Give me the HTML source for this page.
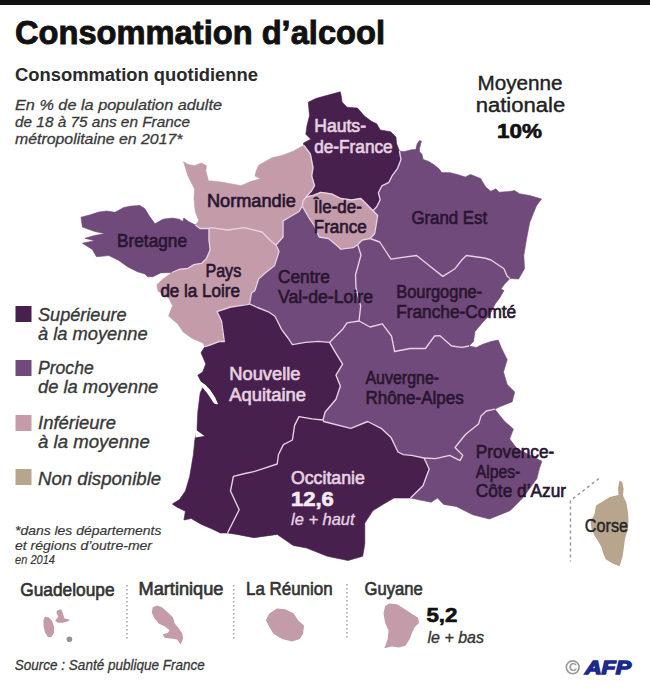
<!DOCTYPE html>
<html><head><meta charset="utf-8"><style>
html,body{margin:0;padding:0;background:#fff;}
svg{display:block;font-family:"Liberation Sans",sans-serif;}
</style></head><body>
<svg width="650" height="687" viewBox="0 0 650 687">
<rect x="0" y="0" width="650" height="687" fill="#fff"/>
<rect x="0" y="0" width="650" height="5" fill="#111"/>
<g stroke-linejoin="round">
<polygon fill="#48204d" stroke="#48204d" stroke-width="0.6" points="304,145.5 303.5,143 310.8,139.2 305.8,134.2 307,125.6 309.5,115.8 308.3,102.2 315.7,98.5 329.2,94.8 340.3,91.8 341.5,97.3 342,102 347,107.2 357.5,108.1 364.4,116 371.4,121.2 376.7,123.8 380.2,130 390.6,131.7 395.9,136.9 396.7,143.9 399.4,151 401,159.6 397.6,168.3 392.4,175.3 388.9,182.3 381.9,185.8 378.4,192.8 380.2,199.8 376.7,206.8 373,210.8 365.4,203 360.8,198.5 351.5,200 340.8,198.5 331.5,193.8 320.8,192.3 313,195.4 306,197 311.5,191 314.5,185.7 311.7,176 313,167.7 311.7,160.8 310.3,153.8 304,145.5"/>
<polygon fill="#c39ba9" stroke="#c39ba9" stroke-width="0.6" points="195.4,225 198.8,220.4 195.4,212.3 194.7,206.3 194,198.5 194.7,189.3 192,184 188.1,176.2 183.5,161.8 188.1,164.4 194.7,165.7 201.2,163.1 206.4,165.7 205.8,171 208.4,180.8 217,181.4 225.4,182.7 241,185.7 250.8,181.5 260.5,178.8 255,176 256.3,170.5 259,165 271.5,158 282.6,155.2 293.7,151 300.6,147 304,145.5 310.3,153.8 311.7,160.8 313,167.7 311.7,176 314.5,185.7 311.5,191 306,197 303,201 302.3,206.2 299,211.5 283,220.8 283,237 276,245 271.5,241.5 262,232 244,227.7 227.7,230 210.4,227.7 209,228.5 200,228.5 195.4,225"/>
<polygon fill="#c39ba9" stroke="#c39ba9" stroke-width="0.6" points="306,197 313,195.4 320.8,192.3 331.5,193.8 340.8,198.5 351.5,200 360.8,198.5 365.4,203 373,210.8 377.7,215.4 376.2,224.6 374.6,233.8 370,238.5 362.3,240 357.7,244.6 353,247.7 340.8,249.2 337.7,246.2 328.5,238.5 319.2,237 314.6,226.2 308.5,217 302.3,206.2 303,201 306,197"/>
<polygon fill="#704a7a" stroke="#704a7a" stroke-width="0.6" points="399.4,151 403.8,151.7 411.2,149.8 415.8,149.4 417.2,143.8 419.5,140.6 421.4,141 419.5,148.5 419.5,151.7 421.9,154 423.2,159.5 428.8,161.4 434.3,165 439,168.8 441.7,172.5 450.2,172.7 457,174.4 465.4,177 470.5,174.4 480.6,178.6 485.7,187 490.8,191.3 495.8,188.8 499.2,192.2 511,191.3 514.5,190.5 519.5,193.8 529.7,195.5 541.5,199 536.5,205.7 533,214.2 529.7,222.6 526.4,239.8 523.8,255.5 524.5,268.7 518.6,279 510,278.5 507,276 504,268.7 491,260 484.6,258 466.3,255.5 461.8,260 455,268.7 442.8,276.4 429.7,266 416.6,255.5 402.4,257.3 391,259.2 387.3,253.5 379.7,242 370,238.5 374.6,233.8 376.2,224.6 377.7,215.4 373,210.8 376.7,206.8 380.2,199.8 378.4,192.8 381.9,185.8 388.9,182.3 392.4,175.3 397.6,168.3 401,159.6 399.4,151"/>
<polygon fill="#704a7a" stroke="#704a7a" stroke-width="0.6" points="172,272.5 160.7,272.9 152.9,276.8 147.6,276.8 145,274 137.4,271.7 127.5,266.7 118.8,260.5 108.9,255.6 96.5,256.8 92.3,249.4 82.4,243.2 94.8,240.7 84.9,238.3 93.5,235.8 104.7,233.6 94.8,231.5 82.4,227.1 81,217.2 90.4,214.8 97.8,212.3 106.4,211 115.1,212.3 123.8,207.4 131.2,206.1 139.8,205.5 144.8,208.6 149.2,215.8 155,223.8 163,219.2 172.3,218 179.2,219.2 182.7,221.5 183.8,218 188.5,221.5 195.4,225 200,228.5 209,228.5 209,240 210.2,249.8 206.5,258.5 201.5,263.4 194,264.6 188,268.3 179,269.5 172,272.5"/>
<polygon fill="#c39ba9" stroke="#c39ba9" stroke-width="0.6" points="172,272.5 179,269.5 188,268.3 194,264.6 201.5,263.4 206.5,258.5 210.2,249.8 209,240 209,228.5 210.4,227.7 227.7,230 244,227.7 262,232 271.5,241.5 276,245 279,251.5 274.6,265.4 264.6,273.5 258.5,279 254.8,290.8 251.5,293 249.5,304 247,304.6 230.8,307 217,311.5 221.5,321 224.3,341.5 219,341.5 210,345 205,346.5 203,343 192.2,338.4 183,331.8 177.8,324 168.6,316.1 172.5,305.6 168.6,297.8 158.1,291.2 156.8,284.7 163,279 172,272.5"/>
<polygon fill="#704a7a" stroke="#704a7a" stroke-width="0.6" points="276,245 283,237 283,220.8 299,211.5 302.3,206.2 308.5,217 314.6,226.2 319.2,237 328.5,238.5 337.7,246.2 340.8,249.2 353,247.7 357.7,244.6 361,255 355.5,275 356,288 360.7,306 359,321 347,322.8 342.6,329.3 329.5,342.4 318.6,341.3 305.5,342.4 292.4,344.6 288,338 281.5,329.3 275,316.2 268.4,311.8 257.5,307.5 249.5,304 251.5,293 254.8,290.8 258.5,279 264.6,273.5 274.6,265.4 279,251.5 276,245"/>
<polygon fill="#704a7a" stroke="#704a7a" stroke-width="0.6" points="370,238.5 379.7,242 387.3,253.5 391,259.2 402.4,257.3 416.6,255.5 429.7,266 442.8,276.4 455,268.7 461.8,260 466.3,255.5 484.6,258 491,260 504,268.7 507,276 510,278.5 504,284.8 501,289 504,290.6 499.7,297.9 495.3,303.7 489.5,315.3 483.7,321.2 475,331.4 473.5,341.5 469,346 461.8,347.4 451.6,346 440,335.7 434.6,336 425.4,348.5 410,348.5 394.6,351.5 391.5,336 382.3,323.8 370,327 359,321 360.7,306 356,288 355.5,275 361,255 357.7,244.6 362.3,240 370,238.5"/>
<polygon fill="#48204d" stroke="#48204d" stroke-width="0.6" points="249.5,304 247,304.6 230.8,307 217,311.5 221.5,321 224.3,341.5 219,341.5 210,345 205,346.5 201,352.8 205.8,364 202.6,372 197.8,375.2 201,381.6 202.6,388 200.2,392.8 197.8,412 197,429.6 194.8,440 193.4,454.5 189.7,476.4 185.4,491 179.5,499.6 172.3,504 176.6,506.9 185.4,511.3 183.9,520 191.2,518.5 201.4,524.4 211.5,528.7 220.3,533 227.5,533 239.2,509.8 230.5,491 233.4,476.4 245,473.5 253.8,471.7 277.2,464 278.5,454.5 283.4,444.6 292.4,440 294.6,425.4 299,416.6 312,418.8 323,420 325,412.3 336,399.2 340.4,386 336,375.2 342.6,364.2 336,353.3 329.5,342.4 318.6,341.3 305.5,342.4 292.4,344.6 288,338 281.5,329.3 275,316.2 268.4,311.8 257.5,307.5 249.5,304"/>
<polygon fill="#704a7a" stroke="#704a7a" stroke-width="0.6" points="359,321 370,327 382.3,323.8 391.5,336 394.6,351.5 410,348.5 425.4,348.5 434.6,336 440,335.7 451.6,346 461.8,347.4 469,346 476.4,347.4 482.2,344.5 491,341.5 498.2,340 501.2,347.4 507.2,359.7 503.5,372 507.2,384.5 514.7,392 512.2,401.8 499.8,406.7 494.9,409.2 486.3,411 481,416 478.5,424 465.4,434.5 455,447.5 462.8,455.4 460,460.6 449.7,455.4 435.4,458.7 424,458 411.7,455.4 403.4,454.6 398,452 391,437.4 381.2,428.3 367.7,421.5 350.8,428.3 323.7,421.5 323,420 325,412.3 336,399.2 340.4,386 336,375.2 342.6,364.2 336,353.3 329.5,342.4 342.6,329.3 347,322.8 359,321"/>
<polygon fill="#48204d" stroke="#48204d" stroke-width="0.6" points="323,420 323.7,421.5 350.8,428.3 367.7,421.5 381.2,428.3 391,437.4 398,452 403.4,454.6 411.7,455.4 424,458 429.2,469 423,485.7 410.5,498 394,498 383.7,504 373,510.6 364.8,523 364.8,544 362.7,556.3 348,560.5 327.4,556.3 306.6,548 293.2,545.5 277.2,534.4 253.8,537.7 237,534.4 227.5,533 239.2,509.8 230.5,491 233.4,476.4 245,473.5 253.8,471.7 277.2,464 278.5,454.5 283.4,444.6 292.4,440 294.6,425.4 299,416.6 312,418.8 323,420"/>
<polygon fill="#704a7a" stroke="#704a7a" stroke-width="0.6" points="424,458 435.4,458.7 449.7,455.4 460,460.6 462.8,455.4 455,447.5 465.4,434.5 478.5,424 481,416 486.3,411 494.9,409.2 499.8,415.4 504.8,421.6 513.4,429 509.7,439 517.1,448.8 541.9,461.2 539.4,468.6 536.9,478.5 530,488 522.7,498 510.2,510.6 489.4,519 472.8,514.8 456.2,506.5 443.7,504.4 437.5,498 431.2,502.3 420,500 410.5,498 423,485.7 429.2,469 424,458"/>
</g>
<g fill="none" stroke="#e6d3e4" stroke-width="1.35" stroke-linejoin="round">
<polyline points="306,197 313,195.4 320.8,192.3 331.5,193.8 340.8,198.5 351.5,200 360.8,198.5 365.4,203 373,210.8"/>
<polyline points="304,145.5 310.3,153.8 311.7,160.8 313,167.7 311.7,176 314.5,185.7 311.5,191 306,197"/>
<polyline points="306,197 303,201 302.3,206.2"/>
<polyline points="302.3,206.2 299,211.5 283,220.8 283,237 276,245"/>
<polyline points="276,245 271.5,241.5 262,232 244,227.7 227.7,230 210.4,227.7 209,228.5"/>
<polyline points="209,228.5 200,228.5 195.4,225"/>
<polyline points="399.4,151 401,159.6 397.6,168.3 392.4,175.3 388.9,182.3 381.9,185.8 378.4,192.8 380.2,199.8 376.7,206.8 373,210.8"/>
<polyline points="373,210.8 377.7,215.4 376.2,224.6 374.6,233.8 370,238.5"/>
<polyline points="370,238.5 362.3,240 357.7,244.6"/>
<polyline points="357.7,244.6 353,247.7 340.8,249.2 337.7,246.2 328.5,238.5 319.2,237 314.6,226.2 308.5,217 302.3,206.2"/>
<polyline points="209,228.5 209,240 210.2,249.8 206.5,258.5 201.5,263.4 194,264.6 188,268.3 179,269.5 172,272.5"/>
<polyline points="276,245 279,251.5 274.6,265.4 264.6,273.5 258.5,279 254.8,290.8 251.5,293 249.5,304"/>
<polyline points="249.5,304 247,304.6 230.8,307 217,311.5 221.5,321 224.3,341.5 219,341.5 210,345 205,346.5"/>
<polyline points="357.7,244.6 361,255 355.5,275 356,288 360.7,306 359,321"/>
<polyline points="359,321 347,322.8 342.6,329.3 329.5,342.4"/>
<polyline points="249.5,304 257.5,307.5 268.4,311.8 275,316.2 281.5,329.3 288,338 292.4,344.6 305.5,342.4 318.6,341.3 329.5,342.4"/>
<polyline points="370,238.5 379.7,242 387.3,253.5 391,259.2 402.4,257.3 416.6,255.5 429.7,266 442.8,276.4 455,268.7 461.8,260 466.3,255.5 484.6,258 491,260 504,268.7 507,276 510,278.5"/>
<polyline points="359,321 370,327 382.3,323.8 391.5,336 394.6,351.5 410,348.5 425.4,348.5 434.6,336 440,335.7 451.6,346 461.8,347.4 469,346"/>
<polyline points="424,458 435.4,458.7 449.7,455.4 460,460.6 462.8,455.4 455,447.5 465.4,434.5 478.5,424 481,416 486.3,411 494.9,409.2"/>
<polyline points="329.5,342.4 336,353.3 342.6,364.2 336,375.2 340.4,386 336,399.2 325,412.3 323,420"/>
<polyline points="323,420 323.7,421.5 350.8,428.3 367.7,421.5 381.2,428.3 391,437.4 398,452 403.4,454.6 411.7,455.4 424,458"/>
<polyline points="424,458 429.2,469 423,485.7 410.5,498"/>
<polyline points="323,420 312,418.8 299,416.6 294.6,425.4 292.4,440 283.4,444.6 278.5,454.5 277.2,464 253.8,471.7 245,473.5 233.4,476.4 230.5,491 239.2,509.8 227.5,533"/>
</g>
<path d="M200,381 Q212,388 218,404 Q215,405 213,402 Q207,392 201,386 Z" fill="#fff"/>
<path d="M195.5,429.5 L204.5,436 L195.5,437.5 Z" fill="#fff"/>
<polygon fill="#b8a58e" points="619.5,480.5 622.2,481.9 623.6,488.8 623,495.7 626.4,502.7 627.8,511 628.5,520.6 627.8,530.3 625,538.6 623.6,549.7 622.2,558 619.5,566.2 612.6,563.5 605.7,559.3 602.9,552.4 601.5,546.9 597.4,540 594.6,535.8 591.5,529 590.5,522 594.6,513.7 596,505.4 602.9,501.3 609.8,497.1 615.3,495.7 618.5,495 618,488"/>
<polyline points="599,478.5 570.5,500.5 570.5,561.5" fill="none" stroke="#999" stroke-width="1.5" stroke-dasharray="3,3"/>
<rect x="15.5" y="306" width="16" height="16" fill="#48204d"/>
<rect x="15.5" y="360" width="16" height="16" fill="#704a7a"/>
<rect x="15.5" y="415" width="16" height="16" fill="#c39ba9"/>
<rect x="15.5" y="469" width="16" height="16" fill="#b8a58e"/>
<polygon fill="#c39ba9" points="44.8,616.7 48.5,617.3 52.2,621 54,626.5 54,632.7 51.5,637 47.8,637 44.8,632 43.5,625.3 43.5,619.8"/>
<polygon fill="#c39ba9" points="57,610.5 61.4,609.3 63.2,614.2 64.5,618.5 70,619.8 67.5,621.6 62.6,622.8 57.7,622.8 55.2,620.4 58.3,616.7 56.5,613"/>
<circle cx="69.4" cy="639.2" r="2.8" fill="#9a9088"/>
<polygon fill="#c39ba9" points="152.7,607.3 156.9,605.6 162,607.3 167.9,612.4 173,617.5 174.7,623.4 178.9,628.5 182.3,633.5 183.1,638.6 180.6,644.5 177.2,639.5 170.5,638.6 164.5,637.8 162.8,634.4 167.9,632.7 169.6,630.2 165.4,626.8 158.6,623.4 154.4,618.3 151.8,612.4"/>
<polygon fill="#c39ba9" points="276.9,608.5 285.4,609.3 293.8,613.5 298,620.3 304,625.4 303.1,633.8 299.8,638.9 292.1,641.5 282,638.9 273.5,633.8 269.3,627 265.9,620.3 269.3,613.5"/>
<polygon fill="#c39ba9" points="389.4,603.5 397,604.3 403.8,608.5 411.4,613.6 418.1,617.8 419,622.9 414.8,627.1 412.2,632.2 409.7,639 405.5,645.8 398.7,647.5 391.9,646.6 384.3,648.3 387.7,639 388.5,630.5 385.2,622.9 383.5,613.6 385.2,606"/>
<g stroke="#999" stroke-width="1.3" stroke-dasharray="1.6,2.4">
<line x1="127" y1="585" x2="127" y2="641"/>
<line x1="233.8" y1="585" x2="233.8" y2="641"/>
<line x1="347" y1="584" x2="347" y2="640"/>
</g>
<text x="15" y="44" font-size="33" font-weight="bold" font-style="normal" fill="#111" stroke="#111" stroke-width="0.9" textLength="370" lengthAdjust="spacingAndGlyphs">Consommation d’alcool</text>
<text x="15" y="81" font-size="18" font-weight="bold" font-style="normal" fill="#2a2a2a" textLength="243" lengthAdjust="spacingAndGlyphs">Consommation quotidienne</text>
<text x="15" y="110" font-size="15.5" font-weight="normal" font-style="italic" fill="#3a3a3a" stroke="#3a3a3a" stroke-width="0.3" textLength="207" lengthAdjust="spacingAndGlyphs">En % de la population adulte</text>
<text x="15" y="127" font-size="15.5" font-weight="normal" font-style="italic" fill="#3a3a3a" stroke="#3a3a3a" stroke-width="0.3" textLength="175" lengthAdjust="spacingAndGlyphs">de 18 à 75 ans en France</text>
<text x="15" y="144" font-size="15.5" font-weight="normal" font-style="italic" fill="#3a3a3a" stroke="#3a3a3a" stroke-width="0.3" textLength="167.5" lengthAdjust="spacingAndGlyphs">métropolitaine en 2017*</text>
<text x="477.5" y="89.5" font-size="20" font-weight="normal" font-style="normal" fill="#222" stroke="#222" stroke-width="0.4" textLength="85" lengthAdjust="spacingAndGlyphs">Moyenne</text>
<text x="475.7" y="111.7" font-size="20" font-weight="normal" font-style="normal" fill="#222" stroke="#222" stroke-width="0.4" textLength="89.5" lengthAdjust="spacingAndGlyphs">nationale</text>
<text x="497" y="137.5" font-size="21" font-weight="bold" font-style="normal" fill="#111" stroke="#111" stroke-width="0.65" textLength="45" lengthAdjust="spacingAndGlyphs">10%</text>
<text x="314.2" y="132.3" font-size="18" font-weight="normal" font-style="normal" fill="#e6d2e2" stroke="#e6d2e2" stroke-width="0.65" textLength="51.8" lengthAdjust="spacingAndGlyphs">Hauts-</text>
<text x="314.2" y="153" font-size="18" font-weight="normal" font-style="normal" fill="#e6d2e2" stroke="#e6d2e2" stroke-width="0.65" textLength="78.5" lengthAdjust="spacingAndGlyphs">de-France</text>
<text x="207" y="207" font-size="18" font-weight="normal" font-style="normal" fill="#2a1530" stroke="#2a1530" stroke-width="0.65" textLength="88.8" lengthAdjust="spacingAndGlyphs">Normandie</text>
<text x="313.8" y="213.2" font-size="18" font-weight="normal" font-style="normal" fill="#2a1530" stroke="#2a1530" stroke-width="0.65" textLength="48" lengthAdjust="spacingAndGlyphs">Île-de-</text>
<text x="313.8" y="233" font-size="18" font-weight="normal" font-style="normal" fill="#2a1530" stroke="#2a1530" stroke-width="0.65" textLength="53" lengthAdjust="spacingAndGlyphs">France</text>
<text x="411.4" y="224" font-size="18" font-weight="normal" font-style="normal" fill="#2a1530" stroke="#2a1530" stroke-width="0.65" textLength="75.8" lengthAdjust="spacingAndGlyphs">Grand Est</text>
<text x="117" y="247.2" font-size="18" font-weight="normal" font-style="normal" fill="#2a1530" stroke="#2a1530" stroke-width="0.65" textLength="70" lengthAdjust="spacingAndGlyphs">Bretagne</text>
<text x="205.4" y="277" font-size="18" font-weight="normal" font-style="normal" fill="#2a1530" stroke="#2a1530" stroke-width="0.65" textLength="35.8" lengthAdjust="spacingAndGlyphs">Pays</text>
<text x="160.4" y="296.5" font-size="18" font-weight="normal" font-style="normal" fill="#2a1530" stroke="#2a1530" stroke-width="0.65" textLength="79.6" lengthAdjust="spacingAndGlyphs">de la Loire</text>
<text x="278" y="283.4" font-size="18" font-weight="normal" font-style="normal" fill="#2a1530" stroke="#2a1530" stroke-width="0.65" textLength="51.8" lengthAdjust="spacingAndGlyphs">Centre</text>
<text x="278" y="303" font-size="18" font-weight="normal" font-style="normal" fill="#2a1530" stroke="#2a1530" stroke-width="0.65" textLength="95" lengthAdjust="spacingAndGlyphs">Val-de-Loire</text>
<text x="396.2" y="297.7" font-size="18" font-weight="normal" font-style="normal" fill="#2a1530" stroke="#2a1530" stroke-width="0.65" textLength="86" lengthAdjust="spacingAndGlyphs">Bourgogne-</text>
<text x="396.2" y="317.7" font-size="18" font-weight="normal" font-style="normal" fill="#2a1530" stroke="#2a1530" stroke-width="0.65" textLength="120" lengthAdjust="spacingAndGlyphs">Franche-Comté</text>
<text x="229.3" y="380.3" font-size="18" font-weight="normal" font-style="normal" fill="#e6d2e2" stroke="#e6d2e2" stroke-width="0.65" textLength="71.2" lengthAdjust="spacingAndGlyphs">Nouvelle</text>
<text x="229.3" y="401" font-size="18" font-weight="normal" font-style="normal" fill="#e6d2e2" stroke="#e6d2e2" stroke-width="0.65" textLength="76.7" lengthAdjust="spacingAndGlyphs">Aquitaine</text>
<text x="365.4" y="383.8" font-size="18" font-weight="normal" font-style="normal" fill="#2a1530" stroke="#2a1530" stroke-width="0.65" textLength="73.8" lengthAdjust="spacingAndGlyphs">Auvergne-</text>
<text x="365.4" y="403.8" font-size="18" font-weight="normal" font-style="normal" fill="#2a1530" stroke="#2a1530" stroke-width="0.65" textLength="98.4" lengthAdjust="spacingAndGlyphs">Rhône-Alpes</text>
<text x="291" y="483.8" font-size="18" font-weight="normal" font-style="normal" fill="#e6d2e2" stroke="#e6d2e2" stroke-width="0.65" textLength="73.8" lengthAdjust="spacingAndGlyphs">Occitanie</text>
<text x="291" y="506" font-size="20" font-weight="bold" font-style="normal" fill="#f4eaf2" stroke="#f4eaf2" stroke-width="0.65" textLength="42.8" lengthAdjust="spacingAndGlyphs">12,6</text>
<text x="291" y="525.4" font-size="17" font-weight="normal" font-style="italic" fill="#e6d2e2" stroke="#e6d2e2" stroke-width="0.35" textLength="63.6" lengthAdjust="spacingAndGlyphs">le + haut</text>
<text x="475.8" y="458" font-size="18" font-weight="normal" font-style="normal" fill="#2a1530" stroke="#2a1530" stroke-width="0.65" textLength="78.5" lengthAdjust="spacingAndGlyphs">Provence-</text>
<text x="475.8" y="477.6" font-size="18" font-weight="normal" font-style="normal" fill="#2a1530" stroke="#2a1530" stroke-width="0.65" textLength="44.5" lengthAdjust="spacingAndGlyphs">Alpes-</text>
<text x="475.8" y="497.2" font-size="18" font-weight="normal" font-style="normal" fill="#2a1530" stroke="#2a1530" stroke-width="0.65" textLength="90.2" lengthAdjust="spacingAndGlyphs">Côte d’Azur</text>
<text x="584.8" y="531.8" font-size="18" font-weight="normal" font-style="normal" fill="#262626" stroke="#262626" stroke-width="0.45" textLength="43.2" lengthAdjust="spacingAndGlyphs">Corse</text>
<text x="38" y="320.5" font-size="18" font-weight="normal" font-style="italic" fill="#383838" stroke="#383838" stroke-width="0.35" textLength="88.6" lengthAdjust="spacingAndGlyphs">Supérieure</text>
<text x="38" y="339.8" font-size="18" font-weight="normal" font-style="italic" fill="#383838" stroke="#383838" stroke-width="0.35" textLength="109.7" lengthAdjust="spacingAndGlyphs">à la moyenne</text>
<text x="38" y="374.4" font-size="18" font-weight="normal" font-style="italic" fill="#383838" stroke="#383838" stroke-width="0.35" textLength="55.7" lengthAdjust="spacingAndGlyphs">Proche</text>
<text x="38" y="393.4" font-size="18" font-weight="normal" font-style="italic" fill="#383838" stroke="#383838" stroke-width="0.35" textLength="120.3" lengthAdjust="spacingAndGlyphs">de la moyenne</text>
<text x="38" y="429.3" font-size="18" font-weight="normal" font-style="italic" fill="#383838" stroke="#383838" stroke-width="0.35" textLength="78" lengthAdjust="spacingAndGlyphs">Inférieure</text>
<text x="38" y="448.3" font-size="18" font-weight="normal" font-style="italic" fill="#383838" stroke="#383838" stroke-width="0.35" textLength="111.8" lengthAdjust="spacingAndGlyphs">à la moyenne</text>
<text x="38" y="485" font-size="18" font-weight="normal" font-style="italic" fill="#383838" stroke="#383838" stroke-width="0.35" textLength="123.2" lengthAdjust="spacingAndGlyphs">Non disponible</text>
<text x="15" y="534.8" font-size="13.5" font-weight="normal" font-style="italic" fill="#383838" stroke="#383838" stroke-width="0.2" textLength="146.4" lengthAdjust="spacingAndGlyphs">*dans les départements</text>
<text x="15" y="549.6" font-size="13.5" font-weight="normal" font-style="italic" fill="#383838" stroke="#383838" stroke-width="0.2" textLength="137" lengthAdjust="spacingAndGlyphs">et régions d’outre-mer</text>
<text x="15" y="564.4" font-size="13.5" font-weight="normal" font-style="italic" fill="#383838" stroke="#383838" stroke-width="0.2" textLength="40" lengthAdjust="spacingAndGlyphs">en 2014</text>
<text x="20.3" y="595.8" font-size="18.5" font-weight="normal" font-style="normal" fill="#333" stroke="#333" stroke-width="0.65" textLength="94.2" lengthAdjust="spacingAndGlyphs">Guadeloupe</text>
<text x="138.5" y="595.3" font-size="18.5" font-weight="normal" font-style="normal" fill="#333" stroke="#333" stroke-width="0.65" textLength="85" lengthAdjust="spacingAndGlyphs">Martinique</text>
<text x="246" y="595.3" font-size="18.5" font-weight="normal" font-style="normal" fill="#333" stroke="#333" stroke-width="0.65" textLength="86.6" lengthAdjust="spacingAndGlyphs">La Réunion</text>
<text x="364.5" y="595.3" font-size="18.5" font-weight="normal" font-style="normal" fill="#333" stroke="#333" stroke-width="0.65" textLength="58.3" lengthAdjust="spacingAndGlyphs">Guyane</text>
<text x="426.4" y="622.2" font-size="19.5" font-weight="bold" font-style="normal" fill="#111" stroke="#111" stroke-width="0.65" textLength="31" lengthAdjust="spacingAndGlyphs">5,2</text>
<text x="427.5" y="642.5" font-size="17" font-weight="normal" font-style="italic" fill="#333" stroke="#333" stroke-width="0.35" textLength="56.5" lengthAdjust="spacingAndGlyphs">le + bas</text>
<text x="14.8" y="670.4" font-size="14.5" font-weight="normal" font-style="italic" fill="#383838" stroke="#383838" stroke-width="0.3" textLength="190" lengthAdjust="spacingAndGlyphs">Source : Santé publique France</text>
<circle cx="572.7" cy="667.3" r="6.4" fill="none" stroke="#999" stroke-width="1.6"/>
<text x="572.9" y="671.3" font-size="11" font-weight="bold" fill="#999" text-anchor="middle">C</text>
<text x="585" y="673.5" font-size="18.5" font-weight="bold" font-style="italic" fill="#1c2a8c" stroke="#1c2a8c" stroke-width="1.4" textLength="46" lengthAdjust="spacingAndGlyphs">AFP</text>
</svg>
</body></html>
